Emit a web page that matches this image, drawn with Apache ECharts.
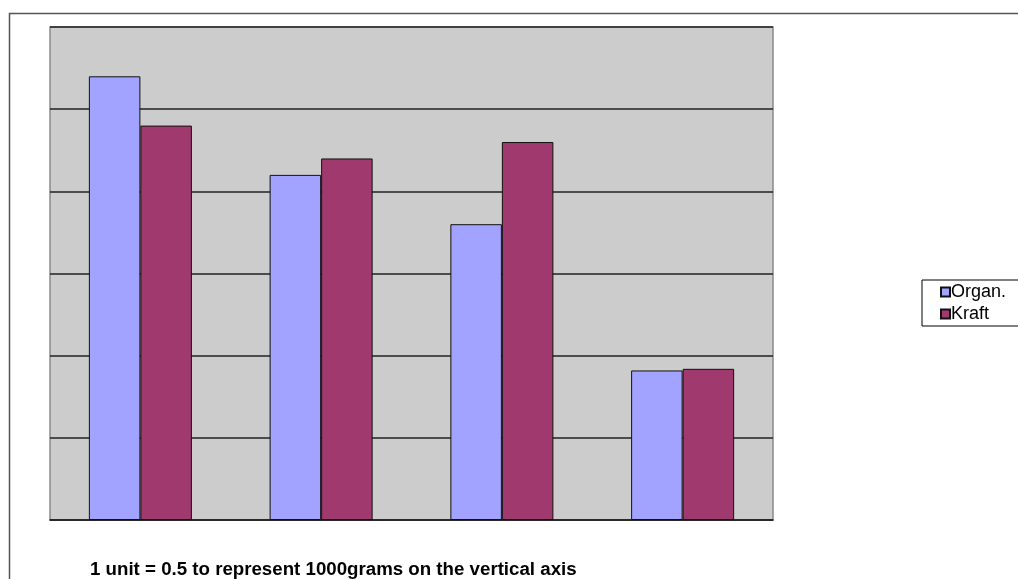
<!DOCTYPE html>
<html>
<head>
<meta charset="utf-8">
<script src="https://cdn.jsdelivr.net/npm/echarts@6/dist/echarts.min.js"></script>
<style>html,body{margin:0;padding:0;background:#fff;}#c{width:1018px;height:579px;}</style>
</head>
<body>
<div id="c"></div>
<script>
const categories = ['A', 'B', 'C', 'D'];
const organValues = [5.4, 4.2, 3.6, 1.82];
const kraftValues = [4.8, 4.4, 4.6, 1.84];
const seriesNames = ['Organ.', 'Kraft'];
const footnote = '1 unit = 0.5 to represent 1000grams on the vertical axis';

const chart = echarts.init(document.getElementById('c'), null, {renderer: 'canvas'});
const font = '"Liberation Sans", Arial, sans-serif';
chart.setOption({
  animation: false,
  backgroundColor: '#ffffff',
  textStyle: {fontFamily: font},
  graphic: [
    {type: 'rect', shape: {x: 9.5, y: 13.5, width: 1040, height: 620},
     style: {fill: 'none', stroke: '#555', lineWidth: 1.5}, z: -10}
  ],
  title: {
    text: footnote, left: 85, top: 555,
    textStyle: {fontFamily: font, fontSize: 18.7, fontWeight: 'bold', color: '#000'}
  },
  legend: {
    data: seriesNames, orient: 'vertical', left: 922, top: 280,
    padding: [3, 40, 3, 18], itemGap: 4, itemWidth: 9, itemHeight: 9,
    borderColor: '#000', borderWidth: 1, backgroundColor: '#fff',
    icon: 'rect',
    textStyle: {fontFamily: font, fontSize: 18, color: '#000', padding: [0, 0, 0, -4]}
  },
  grid: {left: 50, top: 27, right: 245, bottom: 59, show: true,
    backgroundColor: '#cccccc', borderColor: '#8a8a8a', borderWidth: 1.5},
  xAxis: {
    type: 'category', data: categories,
    axisLine: {lineStyle: {color: '#222', width: 1.5}},
    axisTick: {show: false}, axisLabel: {show: false}
  },
  yAxis: {
    type: 'value', min: 0, max: 6, interval: 1,
    axisLine: {show: false}, axisTick: {show: false}, axisLabel: {show: false},
    splitLine: {lineStyle: {color: '#222', width: 1.5}}
  },
  series: [
    {name: seriesNames[0], type: 'bar', data: organValues, barGap: '0%', barCategoryGap: '43%',
     itemStyle: {color: '#a2a2ff', borderColor: '#111', borderWidth: 1}},
    {name: seriesNames[1], type: 'bar', data: kraftValues, barGap: '0%', barCategoryGap: '43%',
     itemStyle: {color: '#a03a6e', borderColor: '#111', borderWidth: 1}}
  ]
});
</script>
</body>
</html>
